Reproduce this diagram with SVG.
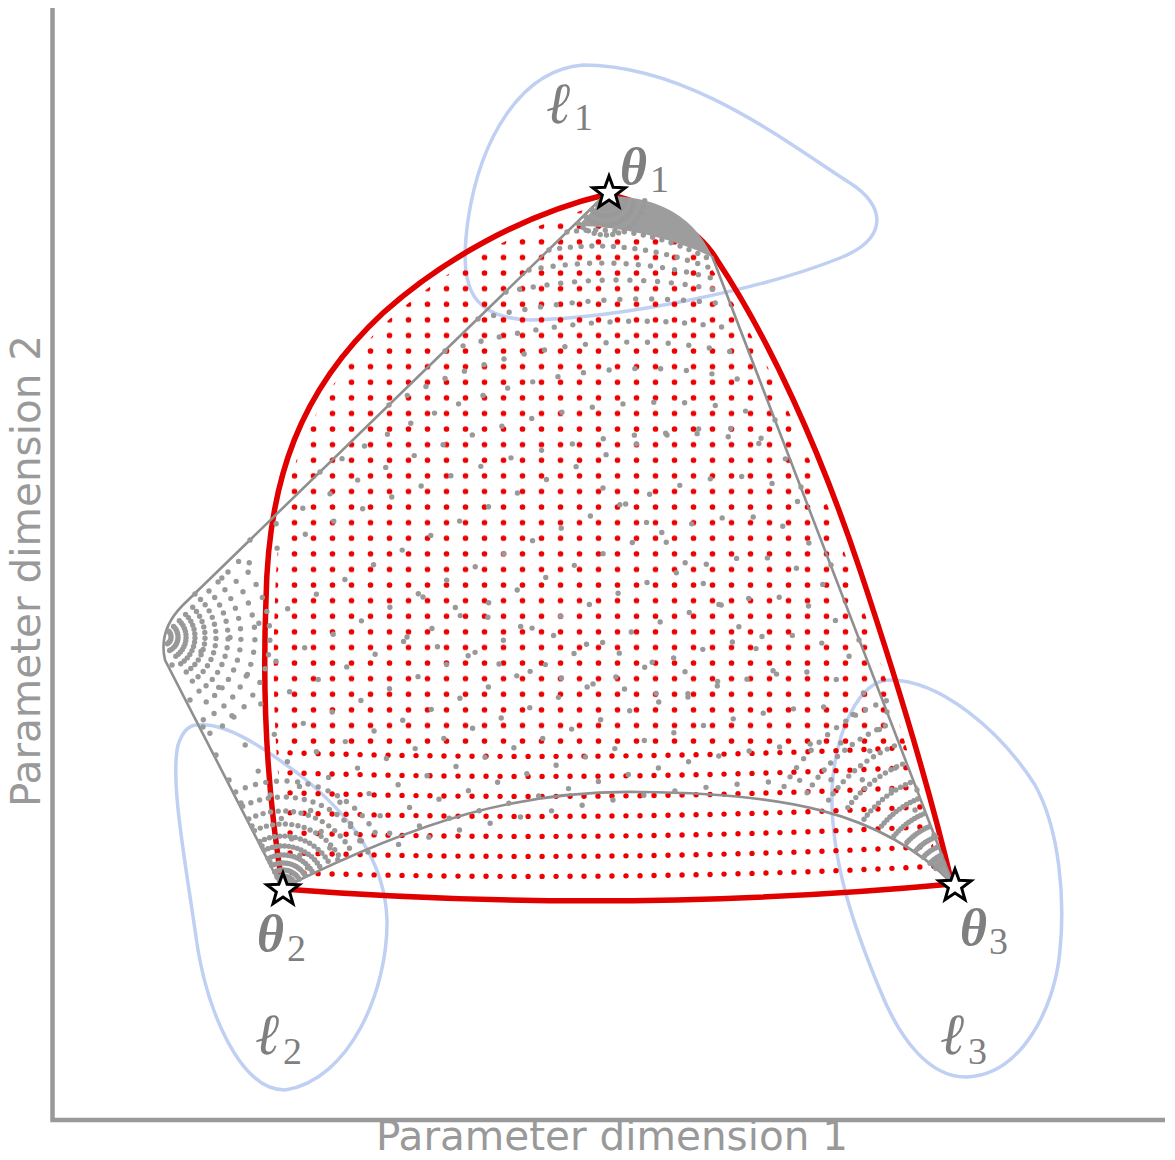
<svg xmlns="http://www.w3.org/2000/svg" width="1175" height="1160" viewBox="0 0 1175 1160">
<style>
.axis{stroke:#999;stroke-width:4.5;fill:none}
.axlab{font-family:"DejaVu Sans",sans-serif;font-size:40.5px;fill:#999}
.loss{fill:none;stroke:#bfd0f2;stroke-width:3.5}
.redline{fill:none;stroke:#e00000;stroke-width:5.5;stroke-linejoin:round}
.gline{fill:none;stroke:#8f8f8f;stroke-width:2.6}
.gd{fill:none;stroke:#999;stroke-width:5.4;stroke-linecap:round;stroke-dasharray:0 1}
.rd{fill:none;stroke:#ee0000;stroke-width:5.4;stroke-linecap:round;stroke-dasharray:0 14}
.sym{font-family:"Liberation Serif","DejaVu Serif",serif;fill:#7f7f7f}
.th{font-size:52px;font-weight:bold;font-style:italic}
.ell{font-size:58px;font-style:italic}
.sub{font-size:38px;font-weight:normal;font-style:normal}
.star{fill:#fff;stroke:#000;stroke-width:3;stroke-linejoin:miter}
</style>
<defs>
<path id="bnd" d="M 608 194 Q 690 215 717 260 C 770 340 820 450 860 570 C 900 690 930 790 952 884 Q 620 915 283 889 C 268 800 262 700 266 600 C 268 480 300 390 383 313 C 440 262 520 215 608 194 Z"/>
<pattern id="grid" patternUnits="userSpaceOnUse" x="0" y="0" width="19" height="15.6">
<circle cx="9.5" cy="7.8" r="2.8" fill="#ee0000"/>
</pattern>
<mask id="inner" maskUnits="userSpaceOnUse" x="0" y="0" width="1175" height="1160">
<use href="#bnd" fill="#fff" stroke="#000" stroke-width="18"/>
</mask>
<path id="st" d="M0,-17 L4.11,-5.66 L16.17,-5.25 L6.66,2.16 L9.99,13.75 L0,7 L-9.99,13.75 L-6.66,2.16 L-16.17,-5.25 L-4.11,-5.66 Z"/>
</defs>

<g id="axes">
<path class="axis" d="M 52.5 8 L 52.5 1120 L 1165 1120"/>
<text class="axlab" x="612" y="1150" text-anchor="middle">Parameter dimension 1</text>
<text class="axlab" transform="translate(40,571) rotate(-90)" x="0" y="0" text-anchor="middle">Parameter dimension 2</text>
</g>

<g id="loss-contours">
<path id="loss1" class="loss" d="M 583 65 C 520 70 480 140 468 220 C 460 280 465 318 530 320 C 620 318 760 290 840 258 C 890 238 885 205 850 183 C 790 145 690 65 583 65 Z"/>
<path id="loss2" class="loss" d="M 197 725 C 225 722 260 745 300 775 C 350 815 385 860 387 920 C 388 990 350 1080 285 1090 C 240 1090 205 1010 195 930 C 185 860 170 780 178 745 C 183 730 190 725 197 725 Z"/>
<path id="loss3" class="loss" d="M 890 680 C 940 680 1000 730 1035 785 C 1060 830 1065 900 1060 950 C 1055 1010 1020 1075 967 1077 C 930 1078 900 1040 880 990 C 855 930 830 860 832 790 C 835 730 860 680 890 680 Z"/>
</g>

<g id="red-boundary">
<use href="#bnd" class="redline"/>
</g>

<g id="red-points" mask="url(#inner)">
<rect x="240" y="180" width="730" height="565" fill="url(#grid)"/>
<path class="rd" d="M 262 872 Q 615 883.5 960 865"/>
<path class="rd" d="M 262 852 Q 615 863.5 960 845"/>
<path class="rd" d="M 262 832 Q 615 843.5 960 825"/>
<path class="rd" d="M 262 812 Q 615 823.5 960 805"/>
<path class="rd" d="M 262 792 Q 615 803.5 960 785"/>
<path class="rd" d="M 262 772 Q 615 783.5 960 765"/>
<path class="rd" d="M 262 752 Q 615 763.5 960 745"/>
</g>

<g id="gray-edges">
<path class="gline" d="M 604 196 L 183 605 Q 158 630 165 660 L 281 886"/>
<path class="gline" d="M 283 888 C 420 820 520 790 640 792 C 780 793 880 810 953 884"/>
<path class="gline" d="M 953 884 L 712 256"/>
</g>

<g id="gray-points">
<path d="M 606 196 C 640 196 690 205 713 258 C 680 240 620 226 578 226 Z" fill="#9d9d9d"/>
<path class="gd" pathLength="10" d="M 597.5 204.5 A 12 12 0 0 0 618 196.6"/>
<path class="gd" pathLength="12" d="M 591.9 210.1 A 20 20 0 0 0 626 197.4"/>
<path class="gd" pathLength="14" d="M 585.5 216.5 A 29 29 0 0 0 634.9 198.5"/>
<path class="gd" pathLength="14" d="M 578.4 223.6 A 39 39 0 0 0 644.7 200.8"/>
<path class="gd" pathLength="16" d="M 567 232 Q 640 222 715 262"/>
<path class="gd" pathLength="16" d="M 549 250 Q 630 236 718 271"/>
<path class="gd" pathLength="16" d="M 529 270 Q 625 252 722 281"/>
<path class="gd" pathLength="16" d="M 506 292 Q 620 268 726 292"/>
<path class="gd" pathLength="16" d="M 478 319 Q 610 288 731 305"/>
<path class="gd" pathLength="16" d="M 445 351 Q 600 305 740 330"/>
<path class="gd" pathLength="18" d="M 389 405 C 470 360 600 320 750 356"/>
<path class="gd" pathLength="18" d="M 320 472 C 450 390 620 340 762 386"/>
<path class="gd" pathLength="18" d="M 250 540 C 420 430 640 370 775 420"/>
<path class="gd" pathLength="20" d="M 195 594 C 380 480 660 390 788 455"/>
<path class="gd" pathLength="22" d="M 172 665 C 400 560 650 400 747 432 Q 785 445 801 487"/>
<path class="gd" pathLength="22" d="M 190 700 C 420 600 660 460 757 478 Q 795 488 816 527"/>
<path class="gd" pathLength="22" d="M 203 727 C 430 640 670 500 760 518 Q 800 528 831 565"/>
<path class="gd" pathLength="22" d="M 216 755 C 440 680 680 545 768 558 Q 810 568 846 605"/>
<path class="gd" pathLength="22" d="M 229 780 C 450 715 690 590 778 597 Q 825 606 859 640"/>
<path class="gd" pathLength="22" d="M 241 803 C 460 745 700 630 790 635 Q 840 643 873 675"/>
<path class="gd" pathLength="22" d="M 252 826 C 470 772 710 670 808 672 Q 855 680 887 712"/>
<path class="gd" pathLength="22" d="M 262 846 C 480 795 720 705 828 707 Q 870 715 902 750"/>
<path class="gd" pathLength="22" d="M 270 862 C 490 812 720 740 848 743 Q 885 752 917 790"/>
<path class="gd" pathLength="22" d="M 277 876 C 500 815 700 775 870 780 Q 905 790 934 835"/>
<path class="gd" pathLength="10" d="M 603 488 C 650 515 720 600 790 693"/>
<path class="gd" pathLength="10" d="M 423 597 C 520 630 640 655 750 692"/>
<path class="gd" pathLength="10" d="M 407 637 C 500 668 600 690 720 700"/>
<path class="gd" pathLength="14" d="M 168.7 631.3 A 8 8 0 0 1 166.5 644.2"/>
<path class="gd" pathLength="14" d="M 173.6 626.4 A 15 15 0 0 1 169.6 650.5"/>
<path class="gd" pathLength="14" d="M 179.3 620.7 A 23 23 0 0 1 173.1 657.7"/>
<path class="gd" pathLength="14" d="M 185.6 614.4 A 32 32 0 0 1 177 665.8"/>
<path class="gd" pathLength="14" d="M 192.7 607.3 A 42 42 0 0 1 181.4 674.8"/>
<path class="gd" pathLength="14" d="M 200.5 599.5 A 53 53 0 0 1 186.2 684.6"/>
<path class="gd" pathLength="14" d="M 209 591 A 65 65 0 0 1 191.5 695.4"/>
<path class="gd" pathLength="14" d="M 218.1 581.9 A 78 78 0 0 1 197.2 707.1"/>
<path class="gd" pathLength="14" d="M 228 572 A 92 92 0 0 1 203.3 719.7"/>
<path class="gd" pathLength="14" d="M 238.6 561.4 A 107 107 0 0 1 209.9 733.2"/>
<path class="gd" pathLength="16" d="M 279.5 881.8 A 8 8 0 0 1 290.2 885.5"/>
<path class="gd" pathLength="16" d="M 277.3 877.3 A 13 13 0 0 1 294.7 883.3"/>
<path class="gd" pathLength="16" d="M 274.7 871.9 A 19 19 0 0 1 300.1 880.7"/>
<path class="gd" pathLength="16" d="M 271.6 865.6 A 26 26 0 0 1 306.4 877.6"/>
<path class="gd" pathLength="16" d="M 268.1 858.4 A 34 34 0 0 1 313.6 874.1"/>
<path class="gd" pathLength="16" d="M 264.2 850.3 A 43 43 0 0 1 321.7 870.2"/>
<path class="gd" pathLength="16" d="M 259.8 841.4 A 53 53 0 0 1 330.6 865.8"/>
<path class="gd" pathLength="16" d="M 254.5 830.6 A 65 65 0 0 1 341.4 860.5"/>
<path class="gd" pathLength="16" d="M 248.8 818.9 A 78 78 0 0 1 353.1 854.8"/>
<path class="gd" pathLength="16" d="M 242.7 806.3 A 92 92 0 0 1 365.7 848.7"/>
<path class="gd" pathLength="16" d="M 235.7 791.9 A 108 108 0 0 1 380.1 841.7"/>
<path d="M 953 884 L 930 862 L 940 852 Z" fill="#9d9d9d"/>
<path class="gd" pathLength="6" d="M 935.9 868.6 A 23 23 0 0 1 945.1 862.4"/>
<path class="gd" pathLength="8" d="M 930 863.3 A 31 31 0 0 1 942.4 854.9"/>
<path class="gd" pathLength="8" d="M 923.3 857.2 A 40 40 0 0 1 939.3 846.4"/>
<path class="gd" pathLength="10" d="M 915.9 850.6 A 50 50 0 0 1 935.9 837"/>
<path class="gd" pathLength="11" d="M 906.9 842.5 A 62 62 0 0 1 931.8 825.7"/>
<path class="gd" pathLength="12" d="M 893.9 836.2 A 76 76 0 0 1 927 812.6"/>
<path class="gd" pathLength="12" d="M 881.5 826.1 A 92 92 0 0 1 921.5 797.5"/>
<path class="gd" pathLength="12" d="M 864 819.3 A 110 110 0 0 1 915.4 780.6"/>
<path class="gd" pathLength="12" d="M 847.8 807.6 A 130 130 0 0 1 908.5 761.8"/>
<path class="gd" pathLength="12" d="M 828.6 800.1 A 150 150 0 0 1 901.7 743"/>
<path class="gd" pathLength="12" d="M 807.1 792.8 A 172 172 0 0 1 894.2 722.3"/>
<path class="gd" pathLength="12" d="M 784.1 786.5 A 195 195 0 0 1 886.3 700.8"/>
</g>

<g id="theta1">
<use href="#st" class="star" x="609" y="193"/>
<text class="sym th" x="620" y="184">θ<tspan class="sub" x="650" y="192">1</tspan></text>
</g>
<g id="theta2">
<use href="#st" class="star" x="283" y="890"/>
<text class="sym th" x="257" y="951">θ<tspan class="sub" x="287" y="961">2</tspan></text>
</g>
<g id="theta3">
<use href="#st" class="star" x="955" y="886"/>
<text class="sym th" x="960" y="945">θ<tspan class="sub" x="989" y="954">3</tspan></text>
</g>
<g id="ell-labels">
<text class="sym ell" x="546" y="123">ℓ<tspan class="sub" x="574" y="130">1</tspan></text>
<text class="sym ell" x="255" y="1054">ℓ<tspan class="sub" x="283" y="1064">2</tspan></text>
<text class="sym ell" x="940" y="1054">ℓ<tspan class="sub" x="968" y="1064">3</tspan></text>
</g>
</svg>
